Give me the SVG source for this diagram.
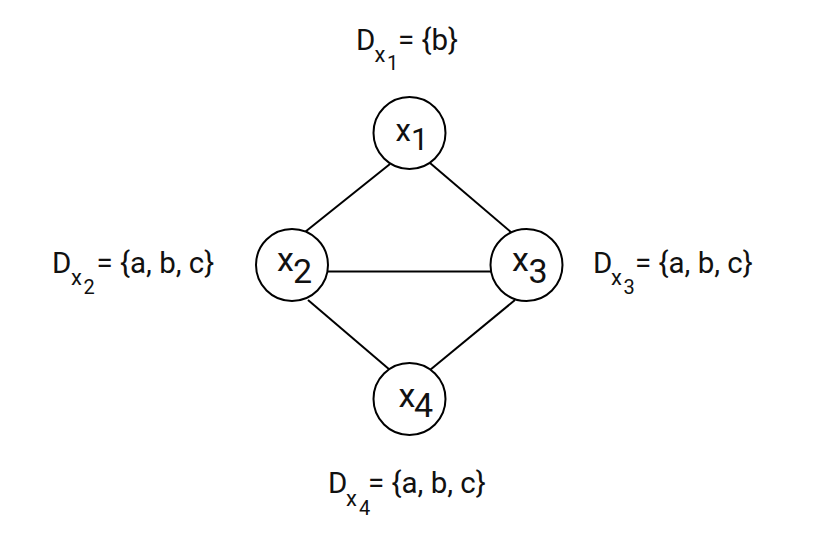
<svg xmlns="http://www.w3.org/2000/svg" width="816" height="538" viewBox="0 0 816 538">
<style>
.bg{fill:#ffffff}
.node circle{fill:#ffffff;stroke:#000;stroke-width:2}
.edges line{stroke:#000;stroke-width:2}
text{font-family:Roboto,"Liberation Sans",sans-serif;fill:#111}
.nl{font-size:34px}
.nl1{font-size:31px}
.m{font-size:29.5px}
.s1{font-size:22px}
.s2{font-size:20px}
</style>
<rect class="bg" x="0" y="0" width="816" height="538"/>
<g id="connectors" class="edges">
<line x1="390" y1="164" x2="305" y2="232"/>
<line x1="430" y1="163" x2="512" y2="233"/>
<line x1="328" y1="271.5" x2="491" y2="271.5"/>
<line x1="308" y1="300" x2="390" y2="370"/>
<line x1="515" y1="300" x2="430" y2="370"/>
</g>
<g id="x1" class="node">
<circle cx="409.5" cy="133" r="36"/>
<text class="nl1" x="395.5" y="140.5">x</text>
<text class="nl1" x="411" y="150">1</text>
</g>
<g id="x2" class="node">
<circle cx="292" cy="265" r="36"/>
<text class="nl" x="277" y="271">x</text>
<text class="nl" x="293" y="283">2</text>
</g>
<g id="x3" class="node">
<circle cx="526.5" cy="265" r="36"/>
<text class="nl" x="512" y="271">x</text>
<text class="nl" x="528.5" y="283">3</text>
</g>
<g id="x4" class="node">
<circle cx="409.5" cy="399" r="36"/>
<text class="nl" x="398.5" y="407">x</text>
<text class="nl" x="414" y="417">4</text>
</g>
<g id="label-d1">
<text class="m" x="356" y="50">D</text>
<text class="s1" x="374.5" y="62">x</text>
<text class="s2" x="387" y="70">1</text>
<text class="m" x="398" y="50">= {b}</text>
</g>
<g id="label-d2">
<text class="m" x="52" y="273">D</text>
<text class="s1" x="71" y="285">x</text>
<text class="s2" x="83.5" y="294">2</text>
<text class="m" x="96.5" y="273">= {a, b, c}</text>
</g>
<g id="label-d3">
<text class="m" x="593" y="273">D</text>
<text class="s1" x="611" y="285">x</text>
<text class="s2" x="623.5" y="294">3</text>
<text class="m" x="635" y="273">= {a, b, c}</text>
</g>
<g id="label-d4">
<text class="m" x="328" y="493">D</text>
<text class="s1" x="346" y="506">x</text>
<text class="s2" x="359" y="515">4</text>
<text class="m" x="368" y="493">= {a, b, c}</text>
</g>
</svg>
